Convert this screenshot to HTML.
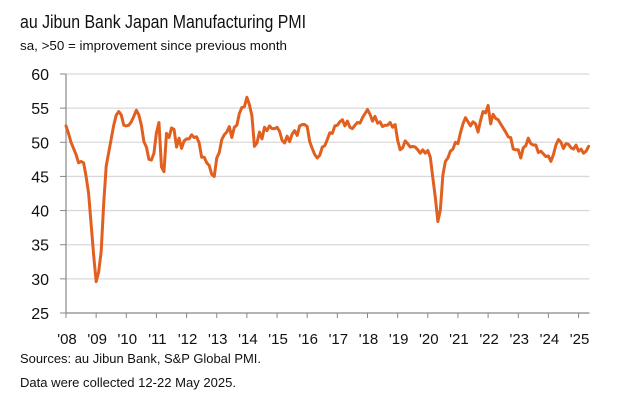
<!DOCTYPE html>
<html><head><meta charset="utf-8"><style>
body{margin:0;background:#fff;width:619px;height:400px;overflow:hidden;font-family:"Liberation Sans",sans-serif;}
</style></head><body>
<svg width="619" height="400" xmlns="http://www.w3.org/2000/svg" font-family="Liberation Sans, sans-serif">
<text x="20" y="28" font-size="18" fill="#111" textLength="286" lengthAdjust="spacingAndGlyphs">au Jibun Bank Japan Manufacturing PMI</text>
<text x="20" y="50" font-size="13" fill="#111" textLength="267" lengthAdjust="spacingAndGlyphs">sa, &gt;50 = improvement since previous month</text>
<g id="grid"></g>
<g id="yaxis"></g>
<g id="xaxis"></g>
<g id="series"></g>
<text x="20" y="363" font-size="13" fill="#111" textLength="241" lengthAdjust="spacingAndGlyphs">Sources: au Jibun Bank, S&amp;P Global PMI.</text>
<text x="20" y="387" font-size="13" fill="#111" textLength="216" lengthAdjust="spacingAndGlyphs">Data were collected 12-22 May 2025.</text>
</svg>
<script>
const yTicks=[25,30,35,40,45,50,55,60];
const yearLabels=["'08","'09","'10","'11","'12","'13","'14","'15","'16","'17","'18","'19","'20","'21","'22","'23","'24","'25"];
const startYear=2008;
const pmi2008=[52.4,51.3,50.0,49.1,48.2,47.0,47.2,47.0,45.0,42.5,38.0,33.5];
const pmi2009=[29.6,31.0,34.0,41.0,46.5,48.5,50.5,52.5,54.0,54.5,54.0,52.5];
const pmi2010=[52.4,52.5,53.0,53.8,54.7,54.0,52.5,50.1,49.3,47.5,47.4,48.4];
const pmi2011=[51.4,52.9,46.4,45.7,51.3,50.7,52.1,51.9,49.3,50.6,49.1,50.2];
const pmi2012=[50.5,50.5,51.1,50.7,50.8,49.9,47.8,47.8,47.0,46.6,45.3,45.0];
const pmi2013=[47.7,48.5,50.4,51.1,51.5,52.3,50.7,52.2,52.5,54.2,55.1,55.2];
const pmi2014=[56.6,55.5,53.9,49.4,49.9,51.5,50.5,52.2,51.7,52.4,52.0,52.0];
const pmi2015=[52.2,51.6,50.3,49.9,50.9,50.1,51.2,51.7,51.0,52.4,52.6,52.6];
const pmi2016=[52.3,50.1,49.1,48.2,47.7,48.1,49.3,49.5,50.4,51.4,51.3,52.4];
const pmi2017=[52.5,53.0,53.3,52.4,53.1,52.2,52.0,52.5,52.9,52.8,53.6,54.2];
const pmi2018=[54.8,54.1,53.1,53.8,52.8,53.0,52.3,52.5,52.5,52.9,52.2,52.6];
const pmi2019=[50.3,48.9,49.2,50.2,49.8,49.3,49.4,49.3,48.9,48.4,48.9,48.4];
const pmi2020=[48.8,47.8,44.8,41.9,38.4,40.1,45.2,47.2,47.7,48.7,49.0,50.0];
const pmi2021=[49.8,51.4,52.7,53.6,53.0,52.4,53.0,52.7,51.5,53.2,54.5,54.3];
const pmi2022=[55.4,52.7,54.1,53.5,53.3,52.7,52.1,51.5,50.8,50.7,49.0,48.9];
const pmi2023=[48.9,47.7,49.2,49.5,50.6,49.8,49.6,49.6,48.5,48.7,48.3,47.9];
const pmi2024=[48.0,47.2,48.2,49.6,50.4,50.0,49.1,49.8,49.7,49.2,49.0,49.6];
const pmi2025=[48.7,49.0,48.4,48.7,49.4];
const values=[].concat(pmi2008,pmi2009,pmi2010,pmi2011,pmi2012,pmi2013,pmi2014,pmi2015,pmi2016,pmi2017,pmi2018,pmi2019,pmi2020,pmi2021,pmi2022,pmi2023,pmi2024,pmi2025);

const NS="http://www.w3.org/2000/svg";
const X0=66,X1=589.5,Y0=74,Y1=313,YMIN=25,YMAX=60;
const monthW=30.15/12;
function xm(i){return X0+i*monthW;}
function y(v){return Y1-(v-YMIN)/(YMAX-YMIN)*(Y1-Y0);}
function mk(tag,attrs,parent){const e=document.createElementNS(NS,tag);for(const k in attrs)e.setAttribute(k,attrs[k]);parent.appendChild(e);return e;}
const grid=document.getElementById('grid'),ya=document.getElementById('yaxis'),xa=document.getElementById('xaxis'),ser=document.getElementById('series');
yTicks.forEach(t=>{
  if(t>YMIN){const g=mk('line',{x1:X0,x2:X1,y1:y(t),y2:y(t),stroke:'#d9d9d9','stroke-width':1.3},grid);
  
  }
  mk('line',{x1:60,x2:X0,y1:y(t),y2:y(t),stroke:'#888','stroke-width':1},ya);
  const tx=mk('text',{x:49,y:y(t)+6,'font-size':16,'text-anchor':'end',fill:'#111'},ya);
  tx.textContent=t;
  
  
});
mk('line',{x1:X0,x2:X0,y1:Y0,y2:Y1,stroke:'#888','stroke-width':1.2},ya);
mk('line',{x1:X0,x2:X1,y1:Y1,y2:Y1,stroke:'#888','stroke-width':1.2},xa);
yearLabels.forEach((lab,i)=>{
  const x=xm(i*12);
  mk('line',{x1:x,x2:x,y1:Y1,y2:Y1+5,stroke:'#888','stroke-width':1},xa);
  const tx=mk('text',{x:x+1,y:344,'font-size':15,'text-anchor':'middle',fill:'#111'},xa);
  tx.textContent=lab;
  
  
});
const d=values.map((v,i)=>(i?'L':'M')+xm(i).toFixed(2)+' '+y(v).toFixed(2)).join(' ');
const p=mk('path',{d:d,fill:'none',stroke:'#e2601f','stroke-width':3,'stroke-linejoin':'round','stroke-linecap':'round'},ser);


</script>
</body></html>
